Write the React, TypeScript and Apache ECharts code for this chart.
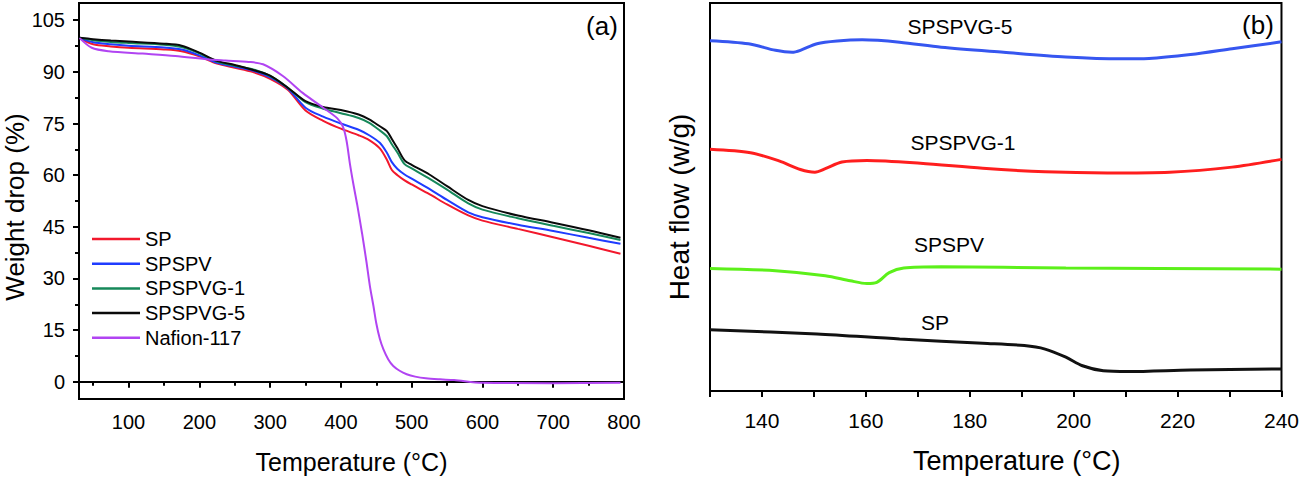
import React, { useEffect, useRef } from "react";
import * as echarts from "echarts";

// ---------- (a) TGA data ----------
const tgaTemps = [31, 50, 75, 100, 150, 175, 200, 225, 250, 275, 300, 325, 350, 375, 400, 425, 440, 455, 465, 472, 480, 490, 500, 525, 550, 580, 600, 650, 700, 750, 795];
const spTga = [99.8, 98.0, 97.4, 97.0, 96.5, 96.0, 94.5, 92.4, 91.2, 90.0, 88.0, 84.8, 78.8, 75.8, 73.5, 71.6, 70.2, 67.8, 64.5, 61.5, 60.0, 58.5, 57.3, 54.5, 51.5, 48.3, 46.8, 44.4, 42.0, 39.5, 37.2];
const spspvTga = [99.8, 98.6, 98.0, 97.6, 97.1, 96.5, 94.8, 92.6, 91.5, 90.4, 88.4, 85.2, 79.6, 77.0, 75.0, 73.2, 71.6, 69.4, 66.5, 63.8, 61.8, 60.2, 59.0, 56.0, 52.8, 49.2, 47.8, 45.6, 43.8, 41.8, 40.1];
const spspvg1Tga = [99.9, 99.2, 98.7, 98.4, 97.9, 97.2, 95.4, 93.0, 91.8, 90.8, 88.8, 85.4, 81.2, 79.3, 78.0, 76.6, 75.2, 73.0, 71.3, 69.0, 66.5, 63.2, 62.0, 59.0, 55.8, 51.8, 50.0, 47.5, 45.3, 43.2, 41.2];
const spspvg5Tga = [99.9, 99.5, 99.1, 98.8, 98.2, 97.6, 95.6, 93.2, 92.0, 90.6, 88.9, 85.4, 81.5, 79.8, 78.9, 77.6, 76.2, 74.2, 72.8, 70.5, 67.8, 64.3, 63.0, 60.2, 56.8, 52.8, 51.0, 48.3, 46.2, 44.0, 41.8];
const nafionTemps = [31, 48, 72, 120, 166, 214, 237, 270, 290, 318, 346, 375, 395, 403, 408, 413, 418, 423, 430, 436, 441, 446, 450, 455, 460, 467, 474, 483, 493, 505, 520, 540, 560, 600, 700, 795];
const nafionTga = [99.8, 97.0, 96.0, 95.3, 94.6, 93.6, 93.3, 92.9, 92.2, 88.8, 83.9, 79.6, 76.5, 74.0, 70.0, 63.0, 57.0, 51.5, 43.0, 35.0, 27.8, 22.0, 17.0, 12.5, 9.5, 6.5, 4.6, 3.2, 2.2, 1.5, 1.0, 0.7, 0.5, -0.3, -0.4, -0.3];

const tgaXLabels = [100, 200, 300, 400, 500, 600, 700, 800];
const tgaXMinor = [50, 150, 250, 350, 450, 550, 650, 750];
const tgaYLabels = [0, 15, 30, 45, 60, 75, 90, 105];
const tgaYMinor = [7.5, 22.5, 37.5, 52.5, 67.5, 82.5, 97.5];

// ---------- (b) DSC data ----------
const g5Temps = [130, 137.4, 142.6, 145.8, 147.4, 150.6, 154.5, 159.3, 166.5, 174.5, 186.5, 198.5, 208.9, 214.5, 222.5, 230.5, 240];
const g5Flow = [90.3, 89.5, 87.8, 87.3, 87.8, 89.5, 90.2, 90.5, 89.9, 88.6, 87.3, 86.1, 85.6, 85.7, 86.7, 88.2, 90.0];
const g1Temps = [130, 137.8, 143.3, 147.4, 150.2, 152.2, 155.4, 160.2, 170.5, 182.5, 194.5, 206.5, 218.5, 230.5, 240];
const g1Flow = [62.3, 61.4, 59.3, 57.1, 56.4, 57.3, 59.0, 59.4, 58.7, 57.4, 56.5, 56.2, 56.4, 57.7, 59.7];
const pvTemps = [130, 142.6, 152.2, 157, 160.2, 162.1, 164.5, 167.3, 174.5, 198.5, 240];
const pvFlow = [31.6, 31.0, 29.7, 28.4, 27.7, 28.0, 30.5, 31.7, 32.0, 31.7, 31.4];
const spTemps = [130, 150.6, 166.5, 182.5, 190.5, 194.5, 198.5, 201.7, 205.7, 210.5, 222.5, 240];
const spFlow = [15.8, 14.7, 13.4, 12.3, 11.7, 10.8, 8.7, 6.5, 5.2, 5.0, 5.4, 5.7];

const dscXLabels = [140, 160, 180, 200, 220, 240];
const dscXTicks = [130, 140, 150, 160, 170, 180, 190, 200, 210, 220, 230, 240];

const FONT = "'Liberation Sans', Arial, sans-serif";

const zip = (xs: number[], ys: number[]) => xs.map((x, i) => [x, ys[i]]);

export default function App() {
  const ref = useRef<HTMLDivElement>(null);
  useEffect(() => {
    if (!ref.current) return;
    const chart = echarts.init(ref.current, undefined, { renderer: "svg" });
    const axisLineStyle = { color: "#000", width: 2 };
    const lineSeries = (name: string, data: number[][], color: string, width: number, xi: number, yi: number) => ({
      name,
      type: "line",
      xAxisIndex: xi,
      yAxisIndex: yi,
      data,
      symbol: "none",
      showSymbol: false,
      smooth: 0.3,
      lineStyle: { color, width },
      itemStyle: { color },
      z: 3,
    });
    const option: any = {
      animation: false,
      backgroundColor: "#fff",
      textStyle: { fontFamily: FONT },
      grid: [
        { left: 79, top: 3, width: 545, height: 397, show: true, borderColor: "#000", borderWidth: 2, backgroundColor: "transparent" },
        { left: 710, top: 3, width: 572, height: 389, show: true, borderColor: "#000", borderWidth: 2, backgroundColor: "transparent" },
      ],
      xAxis: [
        {
          gridIndex: 0, type: "value", min: 30, max: 800, position: "bottom",
          axisLine: { show: true, lineStyle: axisLineStyle },
          axisTick: { show: true, customValues: tgaXLabels, length: 6, lineStyle: axisLineStyle },
          axisLabel: { customValues: tgaXLabels, fontSize: 20, color: "#000", fontFamily: FONT, margin: 13 },
          splitLine: { show: false },
          name: "Temperature (°C)", nameLocation: "middle", nameGap: 50,
          nameTextStyle: { fontSize: 25, color: "#000", fontFamily: FONT },
        },
        {
          gridIndex: 0, type: "value", min: 30, max: 800, position: "bottom", offset: 0,
          axisLine: { show: false },
          axisTick: { show: true, customValues: tgaXMinor, length: 4, lineStyle: axisLineStyle },
          axisLabel: { show: false },
          splitLine: { show: false },
        },
        {
          gridIndex: 1, type: "value", min: 130, max: 240, position: "bottom",
          axisLine: { show: true, lineStyle: axisLineStyle },
          axisTick: { show: true, customValues: dscXTicks, length: 6, lineStyle: axisLineStyle },
          axisLabel: { customValues: dscXLabels, fontSize: 21, color: "#000", fontFamily: FONT, margin: 19 },
          splitLine: { show: false },
          name: "Temperature (°C)", nameLocation: "middle", nameGap: 56,
          nameTextStyle: { fontSize: 27, color: "#000", fontFamily: FONT, padding: [0, 0, 0, 42] },
        },
      ],
      yAxis: [
        {
          gridIndex: 0, type: "value", min: -5, max: 110, position: "left",
          axisLine: { show: true, lineStyle: axisLineStyle },
          axisTick: { show: true, customValues: tgaYLabels, length: 6, lineStyle: axisLineStyle },
          axisLabel: { customValues: tgaYLabels, fontSize: 20, color: "#000", fontFamily: FONT, margin: 14 },
          splitLine: { show: false },
          name: "Weight drop (%)", nameLocation: "middle", nameGap: 50,
          nameTextStyle: { fontSize: 26, color: "#000", fontFamily: FONT, padding: [0, 12, 0, 0] },
        },
        {
          gridIndex: 0, type: "value", min: -5, max: 110, position: "left", offset: 0,
          axisLine: { show: false },
          axisTick: { show: true, customValues: tgaYMinor, length: 4, lineStyle: axisLineStyle },
          axisLabel: { show: false },
          splitLine: { show: false },
        },
        {
          gridIndex: 1, type: "value", min: 0, max: 100, position: "left",
          axisLine: { show: true, lineStyle: axisLineStyle },
          axisTick: { show: false },
          axisLabel: { show: false },
          splitLine: { show: false },
          name: "Heat flow (w/g)", nameLocation: "middle", nameGap: 17,
          nameTextStyle: { fontSize: 28, color: "#000", fontFamily: FONT, padding: [0, 20, 0, 0] },
        },
      ],
      legend: {
        data: ["SP", "SPSPV", "SPSPVG-1", "SPSPVG-5", "Nafion-117"],
        orient: "vertical",
        left: 92,
        top: 229,
        icon: "rect",
        itemWidth: 48,
        itemHeight: 2.5,
        itemGap: 4.7,
        padding: 0,
        textStyle: { fontSize: 20, color: "#000", fontFamily: FONT },
      },
      series: [
        lineSeries("SP", zip(tgaTemps, spTga), "#f2182c", 2, 0, 0),
        lineSeries("SPSPV", zip(tgaTemps, spspvTga), "#1f3cff", 2, 0, 0),
        lineSeries("SPSPVG-1", zip(tgaTemps, spspvg1Tga), "#16885a", 2, 0, 0),
        lineSeries("SPSPVG-5", zip(tgaTemps, spspvg5Tga), "#0a0a0a", 2, 0, 0),
        lineSeries("Nafion-117", zip(nafionTemps, nafionTga), "#b144f2", 2, 0, 0),
        lineSeries("DSC SPSPVG-5", zip(g5Temps, g5Flow), "#3656f0", 3, 2, 2),
        lineSeries("DSC SPSPVG-1", zip(g1Temps, g1Flow), "#ff1e1e", 3, 2, 2),
        lineSeries("DSC SPSPV", zip(pvTemps, pvFlow), "#5cf01a", 3, 2, 2),
        lineSeries("DSC SP", zip(spTemps, spFlow), "#111111", 3, 2, 2),
      ],
      graphic: [
        { type: "text", x: 602, y: 26, style: { text: "(a)", fontSize: 26, fontFamily: FONT, fill: "#000", align: "center", verticalAlign: "middle" } },
        { type: "text", x: 1258, y: 25, style: { text: "(b)", fontSize: 26, fontFamily: FONT, fill: "#000", align: "center", verticalAlign: "middle" } },
        { type: "text", x: 960, y: 26, style: { text: "SPSPVG-5", fontSize: 21, fontFamily: FONT, fill: "#000", align: "center", verticalAlign: "middle" } },
        { type: "text", x: 963, y: 142, style: { text: "SPSPVG-1", fontSize: 21, fontFamily: FONT, fill: "#000", align: "center", verticalAlign: "middle" } },
        { type: "text", x: 949, y: 244, style: { text: "SPSPV", fontSize: 21, fontFamily: FONT, fill: "#000", align: "center", verticalAlign: "middle" } },
        { type: "text", x: 935, y: 322, style: { text: "SP", fontSize: 21, fontFamily: FONT, fill: "#000", align: "center", verticalAlign: "middle" } },
      ],
    };
    chart.setOption(option);
    return () => chart.dispose();
  }, []);
  return (
    <div
      ref={ref}
      style={{ position: "absolute", left: 0, top: 0, width: 1302, height: 479, background: "#fff" }}
    />
  );
}
